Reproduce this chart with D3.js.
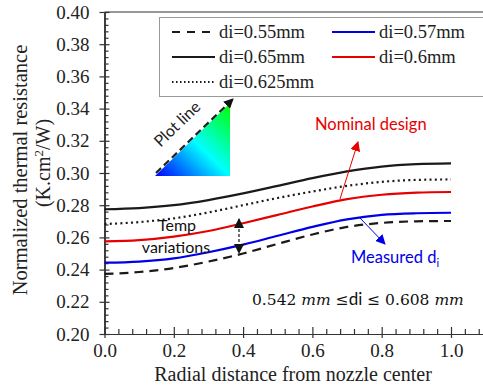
<!DOCTYPE html>
<html><head><meta charset="utf-8">
<script src="https://cdn.jsdelivr.net/npm/d3@7"></script>
<style>
body{margin:0;background:#fff;}
svg{display:block;}
</style></head><body>
<svg id="c" width="483" height="389"></svg>
<script>
// ---- data ----
const xValues = [0, 0.1, 0.2, 0.3, 0.4, 0.5, 0.6, 0.7, 0.8, 0.9, 1.0];
const seriesLabels = ["di=0.55mm", "di=0.57mm", "di=0.65mm", "di=0.6mm", "di=0.625mm"];
const di055 = [0.2373, 0.2385, 0.2410, 0.2450, 0.2500, 0.2560, 0.2618, 0.2665, 0.2690, 0.2700, 0.2702];
const di057 = [0.2443, 0.2450, 0.2470, 0.2508, 0.2555, 0.2610, 0.2665, 0.2712, 0.2740, 0.2750, 0.2753];
const di065 = [0.2775, 0.2782, 0.2800, 0.2832, 0.2873, 0.2920, 0.2968, 0.3010, 0.3040, 0.3055, 0.3060];
const di060 = [0.2575, 0.2583, 0.2605, 0.2640, 0.2688, 0.2740, 0.2792, 0.2838, 0.2865, 0.2878, 0.2882];
const di0625 = [0.2683, 0.2695, 0.2718, 0.2755, 0.2800, 0.2845, 0.2885, 0.2920, 0.2945, 0.2957, 0.2960];
const xTickValues = [0, 0.2, 0.4, 0.6, 0.8, 1.0];
const yTickValues = [0.20, 0.22, 0.24, 0.26, 0.28, 0.30, 0.32, 0.34, 0.36, 0.38, 0.40];

const series = [
  {label: seriesLabels[0], values: di055, color: "#1a1a1a", dash: "9,6"},
  {label: seriesLabels[1], values: di057, color: "#0000e6", dash: null},
  {label: seriesLabels[2], values: di065, color: "#1a1a1a", dash: null},
  {label: seriesLabels[3], values: di060, color: "#e60000", dash: null},
  {label: seriesLabels[4], values: di0625, color: "#1a1a1a", dash: "2,3.3"}
];

const svg = d3.select("#c");
const serif = "Liberation Serif";
const sans = "Lato";
const mathFont = "DejaVu Serif";

const x = d3.scaleLinear().domain([0, 1.1]).range([104.5, 104.5 + 1.1 * 346.5]);
const y = d3.scaleLinear().domain([0.2, 0.4]).range([334, 12]);

// defs
const defs = svg.append("defs");
const grad = defs.append("linearGradient").attr("id", "tri")
  .attr("x1", "0%").attr("y1", "100%").attr("x2", "100%").attr("y2", "0%");
grad.append("stop").attr("offset", "0%").attr("stop-color", "#0000ff");
grad.append("stop").attr("offset", "50%").attr("stop-color", "#00ffff");
grad.append("stop").attr("offset", "100%").attr("stop-color", "#00ff00");
function marker(id, color){
  defs.append("marker").attr("id", id).attr("viewBox", "0 0 10 10")
    .attr("refX", 9).attr("refY", 5).attr("markerWidth", 10).attr("markerHeight", 10)
    .attr("markerUnits", "userSpaceOnUse").attr("orient", "auto-start-reverse")
    .append("path").attr("d", "M0,0 L10,5 L0,10 Z").attr("fill", color);
}
marker("mk", "#111"); marker("mr", "#e60000"); marker("mb", "#0000e6");

// top frame line
svg.append("line").attr("x1", x(0)).attr("x2", 483).attr("y1", y(0.4)).attr("y2", y(0.4))
  .attr("stroke", "#333").attr("stroke-width", 1.2);

// ---- axes ----
const minorX = d3.range(0, 1.1, 0.04).filter(v => Math.abs((v / 0.2) - Math.round(v / 0.2)) > 1e-6);
const minorY = d3.range(0.2, 0.4001, 0.004).filter(v => Math.abs(((v - 0.2) / 0.02) - Math.round((v - 0.2) / 0.02)) > 1e-6);

const gx = svg.append("g").attr("transform", `translate(0,${y(0.2)})`);
gx.append("g").call(d3.axisBottom(x).tickValues(xTickValues).tickSize(4).tickSizeOuter(0).tickPadding(6)
  .tickFormat(d3.format(".1f")));
gx.append("g").call(d3.axisBottom(x).tickValues(xTickValues).tickSize(-7).tickSizeOuter(0).tickFormat(""));
gx.append("g").call(d3.axisBottom(x).tickValues(minorX).tickSize(-5).tickSizeOuter(0).tickFormat(""));
gx.selectAll("path.domain").attr("stroke", "#333").attr("stroke-width", 1.2);
gx.selectAll(".tick line").attr("stroke", "#333").attr("stroke-width", 1.2);
gx.selectAll("text").attr("font-family", serif).attr("font-size", 19).attr("fill", "#222");

const gy = svg.append("g").attr("transform", `translate(${x(0)},0)`);
gy.append("g").call(d3.axisLeft(y).tickValues(yTickValues).tickSize(5).tickSizeOuter(0).tickPadding(10)
  .tickFormat(d3.format(".2f")));
gy.append("g").call(d3.axisLeft(y).tickValues(yTickValues).tickSize(-5).tickSizeOuter(0).tickFormat(""));
gy.append("g").call(d3.axisLeft(y).tickValues(minorY).tickSize(-4).tickSizeOuter(0).tickFormat(""));
gy.selectAll("path.domain").attr("stroke", "#333").attr("stroke-width", 1.2);
gy.selectAll(".tick line").attr("stroke", "#333").attr("stroke-width", 1.2);
gy.selectAll("text").attr("font-family", serif).attr("font-size", 19).attr("fill", "#222");

// axis titles
svg.append("text").attr("x", 293).attr("y", 381).attr("text-anchor", "middle")
  .attr("font-family", serif).attr("font-size", 20).attr("fill", "#222")
  .text("Radial distance from nozzle center");
svg.append("text").attr("transform", "translate(27,170) rotate(-90)").attr("text-anchor", "middle")
  .attr("font-family", serif).attr("font-size", 20.5).attr("fill", "#222")
  .text("Normalized thermal resistance");
const yt2 = svg.append("text").attr("transform", "translate(50,163) rotate(-90)").attr("text-anchor", "middle")
  .attr("font-family", serif).attr("font-size", 20).attr("fill", "#222");
yt2.append("tspan").text("(K.cm");
yt2.append("tspan").attr("font-size", 13).attr("dy", -7).text("2");
yt2.append("tspan").attr("dy", 7).text("/W)");

// ---- lines ----
const line = d3.line().x((d, i) => x(xValues[i])).y(d => y(d)).curve(d3.curveMonotoneX);
series.forEach(s => {
  svg.append("path").datum(s.values).attr("d", line).attr("fill", "none")
    .attr("stroke", s.color).attr("stroke-width", 2.2)
    .attr("stroke-dasharray", s.dash);
});

// ---- legend ----
svg.append("rect").attr("x", 159.5).attr("y", 17.5).attr("width", 340).attr("height", 79)
  .attr("fill", "#fff").attr("stroke", "#999").attr("stroke-width", 1);
const legPos = [[0, 0], [1, 0], [0, 1], [1, 1], [0, 2]];
series.forEach((s, i) => {
  const cx = legPos[i][0] === 0 ? 172 : 332;
  const cy = 32 + legPos[i][1] * 25;
  svg.append("line").attr("x1", cx).attr("x2", cx + 43).attr("y1", cy).attr("y2", cy)
    .attr("stroke", s.color).attr("stroke-width", 2.2).attr("stroke-dasharray", s.dash ? (s.dash === "9,6" ? "8,7" : "1.5,2.5") : null);
  svg.append("text").attr("x", cx + 47).attr("y", cy + 6).attr("font-family", serif)
    .attr("font-size", 18.5).attr("fill", "#222").text(s.label);
});

// ---- plot line triangle ----
const tri = svg.append("g");
tri.append("path").attr("d", "M155,176 L230,176 L230,103 Z").attr("fill", "url(#tri)");
tri.append("line").attr("x1", 156).attr("y1", 173).attr("x2", 233).attr("y2", 99)
  .attr("stroke", "#222").attr("stroke-width", 2.2).attr("stroke-dasharray", "7,4").attr("marker-end", "url(#mk)");
tri.append("text").attr("transform", "translate(181,128) rotate(-44)").attr("text-anchor", "middle")
  .attr("font-family", sans).attr("font-size", 16).attr("fill", "#222").text("Plot line");

// ---- annotations ----
svg.append("text").attr("x", 315).attr("y", 130).attr("font-family", sans).attr("font-size", 16.5)
  .attr("fill", "#e60000").text("Nominal design");
svg.append("line").attr("x1", 340).attr("y1", 199).attr("x2", 358).attr("y2", 142)
  .attr("stroke", "#e60000").attr("stroke-width", 1).attr("marker-end", "url(#mr)");

const md = svg.append("text").attr("x", 351).attr("y", 263).attr("font-family", sans).attr("font-size", 16.5)
  .attr("fill", "#0000e6");
md.append("tspan").text("Measured d");
md.append("tspan").attr("font-size", 11).attr("dy", 4).text("i");
svg.append("line").attr("x1", 360).attr("y1", 218).attr("x2", 385).attr("y2", 244)
  .attr("stroke", "#0000e6").attr("stroke-width", 1).attr("marker-end", "url(#mb)");

svg.append("text").attr("x", 177).attr("y", 231).attr("text-anchor", "middle").attr("font-family", sans)
  .attr("font-size", 16).attr("fill", "#111").text("Temp");
svg.append("text").attr("x", 176).attr("y", 253).attr("text-anchor", "middle").attr("font-family", sans)
  .attr("font-size", 16).attr("fill", "#111").text("variations");
svg.append("line").attr("x1", 239).attr("y1", 219).attr("x2", 239).attr("y2", 253)
  .attr("stroke", "#111").attr("stroke-width", 1.2).attr("stroke-dasharray", "3,2")
  .attr("marker-start", "url(#mk)").attr("marker-end", "url(#mk)");

const f = svg.append("text").attr("x", 252).attr("y", 305).attr("font-family", mathFont)
  .attr("font-size", 15.5).attr("fill", "#111");
f.append("tspan").text("0.542 ");
f.append("tspan").attr("font-style", "italic").text("mm");
f.append("tspan").text(" \u2264");
f.append("tspan").attr("font-family", sans).attr("font-size", 17).text("di");
f.append("tspan").text(" \u2264 0.608 ");
f.append("tspan").attr("font-style", "italic").text("mm");
</script>
</body></html>
